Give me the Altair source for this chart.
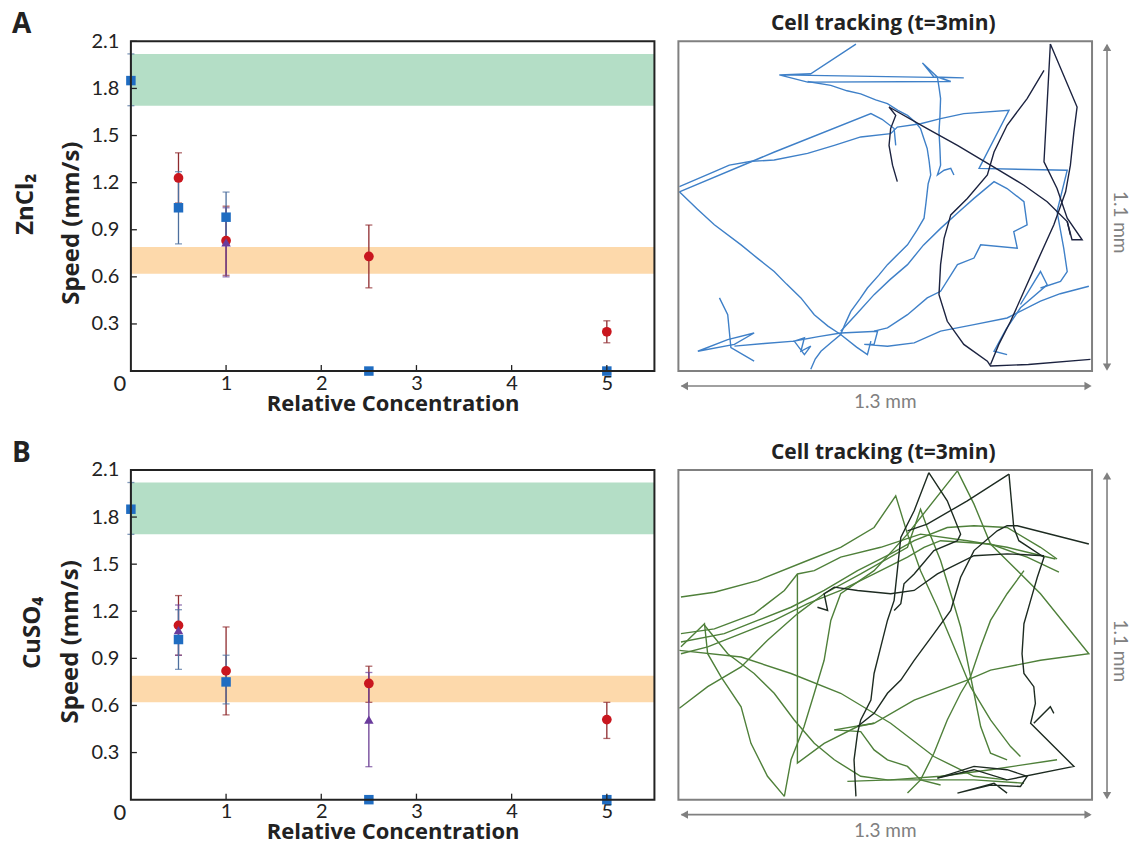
import altair as alt
import pandas as pd

# ---------------- speed data (left panels) ----------------
CONC_TICKS = [1, 2, 3, 4, 5]
SPEED_TICKS = [0.3, 0.6, 0.9, 1.2, 1.5, 1.8, 2.1]
BAND_LO = [1.69, 0.62]
BAND_HI = [2.02, 0.79]
BAND_COLORS = ["#b4dec6", "#fdd9ab"]

A_BLUE_X = [0, 0.5, 1, 2.5, 5]
A_BLUE_Y = [1.85, 1.04, 0.98, 0.0, 0.0]
A_BLUE_LO = [1.69, 0.81, 0.82, None, None]
A_BLUE_HI = [2.02, 1.27, 1.14, None, None]
A_RED_X = [0.5, 1, 2.5, 5]
A_RED_Y = [1.23, 0.83, 0.73, 0.25]
A_RED_LO = [1.07, 0.61, 0.53, 0.18]
A_RED_HI = [1.39, 1.05, 0.93, 0.32]
A_PUR_X = [1]
A_PUR_Y = [0.82]
A_PUR_LO = [0.60]
A_PUR_HI = [1.04]

B_BLUE_X = [0, 0.5, 1, 2.5, 5]
B_BLUE_Y = [1.85, 1.02, 0.75, 0.0, 0.0]
B_BLUE_LO = [1.69, 0.83, 0.61, None, None]
B_BLUE_HI = [2.02, 1.21, 0.92, None, None]
B_RED_X = [0.5, 1, 2.5, 5]
B_RED_Y = [1.11, 0.82, 0.74, 0.51]
B_RED_LO = [0.92, 0.54, 0.62, 0.39]
B_RED_HI = [1.30, 1.10, 0.85, 0.62]
B_PUR_X = [0.5, 2.5]
B_PUR_Y = [1.08, 0.51]
B_PUR_LO = [0.92, 0.21]
B_PUR_HI = [1.24, 0.81]

# ---------------- cell tracks (µm, right panels) ----------------
A_LIGHT_TRACKS = [
    [(558,1091),(416,992),(317,988),(897,978),(803,981),(767,1028),(814,981),(856,966),(406,964),(317,988)],
    [(406,966),(479,953),(530,935),(573,925),(620,905),(657,892),(690,870),(720,853),(745,830),(761,809),(770,780),(782,742),(788,700),(793,654),(785,625),(782,598),(778,560),(772,510),(750,470),(720,421),(690,390),(657,355),(630,320),(594,277),(570,240),(542,199),(525,160),(510,122),(480,95),(448,66),(430,40),(416,6)],
    [(814,981),(820,940),(824,909),(822,850),(819,798),(822,740),(824,687),(814,654),(835,670),(856,676),(866,654)],
    [(3,598),(300,730),(605,859),(640,840),(678,809),(683,753)],
    [(3,615),(113,665),(160,687),(230,700),(301,704),(406,726),(490,753),(573,781),(667,792),(688,814),(761,825),(824,842),(897,859),(1039,870),(945,676),(1222,670),(1190,532),(1211,410),(1222,332),(1201,299),(1138,277)],
    [(3,598),(60,540),(113,488),(197,421),(250,375),(301,332),(340,290),(385,244),(427,188),(470,150),(510,122),(560,80),(594,55),(605,100)],
    [(61,66),(155,105),(238,127),(176,89),(61,66)],
    [(129,244),(155,188),(165,78),(238,33)],
    [(176,83),(270,92),(364,100),(396,111),(385,66),(416,83),(396,55),(364,100),(440,115),(510,127),(626,133),(615,89),(584,89),(657,83),(741,94),(824,133),(929,155),(1033,177),(1138,233),(1200,258),(1290,283)],
    [(510,133),(560,190),(615,255),(665,305),(720,355),(770,420),(824,476),(880,530),(929,576),(992,632),(1033,609),(1086,565),(1096,488),(1054,465),(1065,410),(950,421),(929,377),(877,355),(824,266),(782,244),(720,188),(657,144),(615,133)],
    [(1075,222),(1138,332),(1159,288),(1075,211),(1030,140),(992,66),(1033,55)],
]
A_DARK_TRACKS = [
    [(688,632),(673,687),(662,753),(667,809),(683,853),(662,881),(782,809),(877,753),(981,687),(1086,620),(1159,565),(1222,499),(1232,454)],
    [(1149,1003),(1096,909),(1033,820),(992,731),(971,654),(908,576),(856,521),(835,443),(824,355),(819,255),(845,166),(897,89),(971,33),(981,17),(1100,22),(1295,39)],
    [(1169,1091),(1253,881),(1243,798),(1232,687),(1217,598),(1180,488),(1128,366),(1086,266),(1044,166),(1007,89),(981,22)],
    [(1169,1091),(1149,698),(1190,609),(1222,510),(1269,438),(1237,438),(1222,499)],
]
B_LIGHT_TRACKS = [
    [(8,676),(113,692),(249,731),(406,798),(510,842),(615,908),(683,1014),(720,886),(761,764),(814,642),(866,510),(918,377),(981,266),(1044,177),(1075,144)],
    [(8,526),(144,554),(249,598),(354,642),(458,698),(563,764),(667,820),(741,864),(845,908),(929,914),(1033,908),(1138,842),(1190,803)],
    [(8,554),(113,570),(238,620),(333,698),(374,753),(427,764),(510,809),(636,842),(761,886),(908,864),(1033,842),(1185,803)],
    [(8,487),(92,510),(197,554),(301,598),(406,654),(510,698),(615,753),(720,809),(772,842),(824,864),(981,853),(1096,809),(1196,759)],
    [(3,305),(92,377),(197,443),(280,532),(374,620),(458,687),(573,753),(720,842),(761,969),(782,908),(824,798),(856,687),(887,576),(908,465),(929,355),(950,244),(981,155),(1033,133)],
    [(374,753),(374,122),(458,188),(563,244),(615,255)],
    [(3,498),(197,476),(354,421),(510,355),(667,255),(803,144),(929,78),(1033,66)],
    [(8,510),(82,587),(92,487),(134,410),(197,310),(228,188),(280,78),(333,11)],
    [(82,582),(155,487),(238,421),(301,355),(364,266),(427,188),(490,133),(573,78),(657,66),(772,66),(929,66),(1086,55)],
    [(877,1097),(720,886),(615,764),(510,687),(479,598),(458,465),(427,355),(395,244),(354,133),(333,11)],
    [(877,1097),(929,986),(981,853),(1033,798),(1138,687),(1290,487),(1138,465),(981,432),(908,399),(741,332),(615,255),(490,233)],
    [(1086,764),(1033,687),(981,598),(950,510),(918,410),(887,355),(845,266),(803,155),(761,66),(720,22)],
    [(490,233),(573,227),(615,166),(657,133),(720,111),(761,66),(824,49)],
    [(531,61),(667,66),(824,78),(981,100),(1190,133)],
]
B_DARK_TRACKS = [
    [(787,1091),(741,964),(699,875),(688,764),(678,665),(657,598),(636,510),(615,421),(605,332),(573,266),(563,222),(552,133),(558,11)],
    [(787,1091),(845,997),(887,886),(877,864),(803,831),(741,753),(709,720),(699,654),(678,631)],
    [(1039,1086),(908,997),(782,919),(720,897)],
    [(1039,1086),(1054,908),(1070,864),(1149,809),(1128,742),(1107,665),(1086,587),(1080,487),(1086,421),(1117,377),(1122,321),(1107,255),(1243,111),(1033,66),(929,100),(814,72)],
    [(1290,853),(1065,914),(1033,914),(1002,897),(929,831),(887,742),(856,631),(803,554),(741,465),(699,399),(657,355),(615,288),(563,244)],
    [(437,642),(469,631),(458,687),(490,709),(563,698),(667,687),(741,698),(814,753),(929,814),(1033,820),(1149,814)],
    [(814,72),(929,111),(1033,100),(1096,78),(1075,44),(981,49),(877,22),(992,55),(1033,22)],
    [(1117,255),(1169,310),(1180,288)],
]

LW, LH = 524, 330
RW, RH = 414, 330
INK = "#222222"
GRAY = "#808080"
LABEL_FONT = "Lato"
TITLE_FONT = "Open Sans"


def series_df(xs, ys, lo, hi):
    return pd.DataFrame({"x": xs, "y": ys, "lo": lo, "hi": hi})


def one(t=""):
    return pd.DataFrame({"t": [t]})


def speed_panel(letter, salt, salt_dx, salt_cy, speed_dx, speed_cy, blue, red, purple):
    xs = alt.Scale(domain=[0, 5.5], nice=False, zero=False)
    ys = alt.Scale(domain=[0, 2.1], nice=False)
    xax = alt.Axis(values=CONC_TICKS, format="d", ticks=False, domain=False, grid=False,
                   labelFont=LABEL_FONT, labelFontSize=20, labelColor=INK, labelPadding=2,
                   title="Relative Concentration", titleFont=TITLE_FONT, titleFontSize=22,
                   titleFontWeight="bold", titleColor=INK, titlePadding=0)
    yax = alt.Axis(values=SPEED_TICKS, format=".1f", ticks=False, domain=False, grid=False,
                   labelFont=LABEL_FONT, labelFontSize=20, labelColor=INK, labelPadding=12,
                   title=None)

    def X(f):
        return alt.X(f, type="quantitative", scale=xs, axis=xax)

    def Y(f):
        return alt.Y(f, type="quantitative", scale=ys, axis=yax)

    layers = []
    band_df = pd.DataFrame({"lo": BAND_LO, "hi": BAND_HI, "c": BAND_COLORS})
    for i, col in enumerate(BAND_COLORS):
        layers.append(
            alt.Chart(band_df.iloc[[i]]).mark_rect(color=col, opacity=1).encode(
                x=alt.value(0), x2=alt.value(LW), y=Y("lo"), y2="hi")
        )

    specs = [
        (red, "#8e2a2e", "circle", "#c9161e", 95),
        (purple, "#6b3f94", "triangle-up", "#6a3b9c", 90),
        (blue, "#4d6f9e", "square", "#1f6cc1", 90),
    ]
    for df, ecol, _, _, _ in specs:
        d = df.dropna()
        layers.append(alt.Chart(d).mark_rule(color=ecol, strokeWidth=1.3).encode(
            x=X("x"), y=Y("lo"), y2="hi"))
        layers.append(alt.Chart(d).mark_tick(color=ecol, orient="horizontal", size=7, thickness=1.3).encode(
            x=X("x"), y=Y("lo")))
        layers.append(alt.Chart(d).mark_tick(color=ecol, orient="horizontal", size=7, thickness=1.3).encode(
            x=X("x"), y=Y("hi")))
    for df, _, shape, col, size in specs:
        layers.append(alt.Chart(df).mark_point(filled=True, shape=shape, size=size, color=col, opacity=1).encode(
            x=X("x"), y=Y("y")))

    # inward tick marks
    layers.append(alt.Chart(pd.DataFrame({"x": CONC_TICKS})).mark_rule(color=INK, strokeWidth=1.3).encode(
        x=X("x"), y=alt.value(LH), y2=alt.value(LH - 6)))
    layers.append(alt.Chart(pd.DataFrame({"y": SPEED_TICKS})).mark_rule(color=INK, strokeWidth=1.3).encode(
        y=Y("y"), x=alt.value(0), x2=alt.value(6)))
    # shared zero label
    layers.append(alt.Chart(pd.DataFrame({"x": [0], "y": [0], "t": ["0"]})).mark_text(
        dx=-11, dy=13, fontSize=22, font=LABEL_FONT, color=INK).encode(x=X("x"), y=Y("y"), text="t"))
    # frame
    layers.append(alt.Chart(one()).mark_rect(fillOpacity=0, stroke=INK, strokeWidth=2).encode(
        x=alt.value(0), x2=alt.value(LW), y=alt.value(0), y2=alt.value(LH)))
    # texts
    layers.append(alt.Chart(one(letter)).mark_text(align="left", baseline="top", fontSize=28,
                                                   fontWeight="bold", font=TITLE_FONT, color=INK).encode(
        x=alt.value(-119), y=alt.value(-30), text="t"))
    layers.append(alt.Chart(one(salt)).mark_text(angle=270, fontSize=24, fontWeight="bold",
                                                 font=TITLE_FONT, color=INK).encode(
        x=alt.value(salt_dx), y=alt.value(salt_cy), text="t"))
    layers.append(alt.Chart(one("Speed  (mm/s)")).mark_text(angle=270, fontSize=24, fontWeight="bold",
                                                            font=TITLE_FONT, color=INK).encode(
        x=alt.value(speed_dx), y=alt.value(speed_cy), text="t"))
    return alt.layer(*layers).properties(width=LW, height=LH)


def track_panel(light_tracks, dark_tracks, light_col, dark_col):
    xs = alt.Scale(domain=[0, 1300], nice=False, zero=False)
    ys = alt.Scale(domain=[0, 1100], nice=False, zero=False)

    def frame(tracks, tag):
        rows = []
        for k, tr in enumerate(tracks):
            for i, (x, y) in enumerate(tr):
                rows.append({"track": f"{tag}{k}", "i": i, "x": x, "y": y})
        return pd.DataFrame(rows)

    layers = []
    for df, col in [(frame(light_tracks, "l"), light_col), (frame(dark_tracks, "d"), dark_col)]:
        layers.append(alt.Chart(df).mark_line(color=col, strokeWidth=1.4, clip=True).encode(
            x=alt.X("x:Q", scale=xs, axis=None),
            y=alt.Y("y:Q", scale=ys, axis=None),
            detail="track:N", order="i:Q"))
    layers.append(alt.Chart(one()).mark_rect(fillOpacity=0, stroke=GRAY, strokeWidth=2).encode(
        x=alt.value(0), x2=alt.value(RW), y=alt.value(0), y2=alt.value(RH)))
    layers.append(alt.Chart(one("Cell tracking (t=3min)")).mark_text(
        fontSize=21, fontWeight="bold", font=TITLE_FONT, color=INK, baseline="middle").encode(
        x=alt.value(205), y=alt.value(-17), text="t"))
    # scale arrows
    ax = 429
    layers.append(alt.Chart(one()).mark_rule(color=GRAY, strokeWidth=1.6).encode(
        x=alt.value(ax), y=alt.value(4), y2=alt.value(RH - 2)))
    layers.append(alt.Chart(one()).mark_point(shape="triangle-up", filled=True, size=70, color=GRAY, opacity=1).encode(
        x=alt.value(ax), y=alt.value(6)))
    layers.append(alt.Chart(one()).mark_point(shape="triangle-down", filled=True, size=70, color=GRAY, opacity=1).encode(
        x=alt.value(ax), y=alt.value(RH - 4)))
    ay = 345
    layers.append(alt.Chart(one()).mark_rule(color=GRAY, strokeWidth=1.6).encode(
        y=alt.value(ay), x=alt.value(3), x2=alt.value(RW - 2)))
    layers.append(alt.Chart(one()).mark_point(shape="triangle-left", filled=True, size=70, color=GRAY, opacity=1).encode(
        x=alt.value(6), y=alt.value(ay)))
    layers.append(alt.Chart(one()).mark_point(shape="triangle-right", filled=True, size=70, color=GRAY, opacity=1).encode(
        x=alt.value(RW - 4), y=alt.value(ay)))
    layers.append(alt.Chart(one("1.1 mm")).mark_text(angle=90, fontSize=19, font=LABEL_FONT, color=GRAY).encode(
        x=alt.value(442), y=alt.value(181), text="t"))
    layers.append(alt.Chart(one("1.3 mm")).mark_text(fontSize=19, font=LABEL_FONT, color=GRAY).encode(
        x=alt.value(207), y=alt.value(361), text="t"))
    return alt.layer(*layers).properties(width=RW, height=RH)


a_left = speed_panel("A", "ZnCl₂", -105, 163, -59, 182,
                     series_df(A_BLUE_X, A_BLUE_Y, A_BLUE_LO, A_BLUE_HI),
                     series_df(A_RED_X, A_RED_Y, A_RED_LO, A_RED_HI),
                     series_df(A_PUR_X, A_PUR_Y, A_PUR_LO, A_PUR_HI))
b_left = speed_panel("B", "CuSO₄", -98, 163, -60, 172,
                     series_df(B_BLUE_X, B_BLUE_Y, B_BLUE_LO, B_BLUE_HI),
                     series_df(B_RED_X, B_RED_Y, B_RED_LO, B_RED_HI),
                     series_df(B_PUR_X, B_PUR_Y, B_PUR_LO, B_PUR_HI))
a_right = track_panel(A_LIGHT_TRACKS, A_DARK_TRACKS, "#3f80c8", "#1c2340")
b_right = track_panel(B_LIGHT_TRACKS, B_DARK_TRACKS, "#4f803a", "#1d2b21")

chart = alt.concat(
    a_left, a_right, b_left, b_right,
    columns=2, spacing={"row": 99, "column": 24}, bounds="flush",
).properties(
    padding={"left": 4, "top": 3, "right": 4, "bottom": 4},
    background="white",
).configure_view(strokeWidth=0)

chart.save("out.html", embed_options={"renderer": "svg", "actions": False})
